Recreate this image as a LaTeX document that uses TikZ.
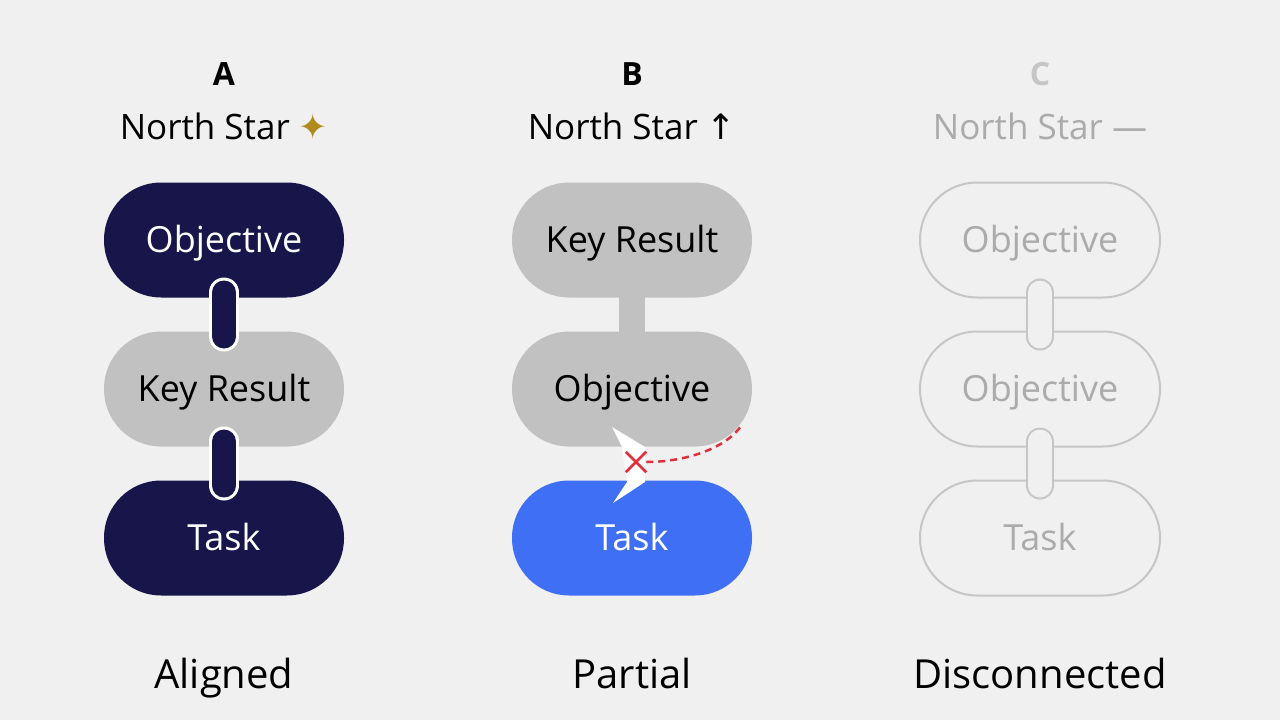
\documentclass[tikz,border=0pt]{standalone}
\usepackage{fontspec}
\usepackage{tikz}
\usetikzlibrary{positioning, shapes.misc}
\setmainfont{Open Sans}
\newfontfamily\symfont{DejaVu Sans}
\definecolor{pageBg}{HTML}{F0F0F0}
\definecolor{okrNavy}{HTML}{17154A}
\definecolor{okrGray}{HTML}{C1C1C1}
\definecolor{okrBlue}{HTML}{3F6FF5}
\definecolor{okrFaint}{HTML}{C6C6C6}
\definecolor{faintText}{HTML}{ABABAB}
\definecolor{starGold}{HTML}{B08A1C}
\definecolor{cutRed}{HTML}{E0303C}

\begin{document}
\begin{tikzpicture}[x=1pt, y=-1pt,
    pill/.style={rectangle, rounded corners=57pt, minimum width=240pt, minimum height=115pt, inner sep=0pt,
        outer sep=0pt, text height=25pt, text depth=0pt, font=\fontsize{36}{40}\selectfont},
    navyPill/.style={pill, fill=okrNavy, text=white},
    greyPill/.style={pill, fill=okrGray, text=black},
    taskPill/.style={pill, fill=okrBlue, text=white},
    ghostPill/.style={pill, draw=okrFaint, line width=2pt, text=faintText},
    letter/.style={anchor=base, font=\fontsize{32}{36}\selectfont\bfseries},
    heading/.style={anchor=base, font=\fontsize{35}{40}\selectfont},
    verdict/.style={anchor=base, font=\fontsize{40}{46}\selectfont},
    aLink/.style={draw=white, line width=3pt, double=okrNavy, double distance=24pt, line cap=round},
    bLink/.style={draw=okrGray, line width=26pt},
    cLink/.style={draw=okrFaint, line width=2pt, double=pageBg, double distance=24pt, line cap=round},
    cutLine/.style={draw=cutRed, line width=2.5pt, dashed, dash pattern=on 7pt off 5pt}
]
\fill[pageBg] (0,0) rectangle (1280,720);

% A: aligned
\node[letter] (aLetter) at (224,85) {A};
\node[heading] (aStar) at (224,139) {North Star {\symfont\color{starGold}✦}};
\node[navyPill] (aObj) at (224,240) {Objective};
\node[greyPill, below=34pt of aObj] (aKR) {Key Result};
\node[navyPill, below=34pt of aKR] (aTask) {Task};
\draw[aLink] ([yshift=5pt]aObj.south) -- ([yshift=-5pt]aKR.north);
\draw[aLink] ([yshift=5pt]aKR.south) -- ([yshift=-5pt]aTask.north);
\node[verdict] (aNote) at (224,688) {Aligned};

% B: partial
\node[letter] (bLetter) at (632,85) {B};
\node[heading] (bStar) at (632,139) {North Star {\symfont ↑}};
\node[greyPill] (bKR) at (632,240) {Key Result};
\node[greyPill, below=34pt of bKR] (bObj) {Objective};
\node[taskPill, below=34pt of bObj] (bTask) {Task};
\draw[bLink] ([yshift=2pt]bKR.south) -- ([yshift=-2pt]bObj.north);
\fill[white] (612,427) -- (645,447) -- (645,482) -- (613,503) -- (627,482) -- (622,447) -- cycle;
\node[cross out, draw=cutRed, line width=2.5pt, minimum size=18pt, inner sep=0pt] (bCut) at (636,462) {};
\coordinate (bRim) at (741,426);
\draw[cutLine] (bCut.east) .. controls +(40,0) and +(-15,22) .. (bRim);
\node[verdict] (bNote) at (632,688) {Partial};

% C: disconnected
\node[letter, text=okrFaint] (cLetter) at (1040,85) {C};
\node[heading, text=faintText] (cStar) at (1040,139) {North Star —};
\node[ghostPill] (cObj) at (1040,240) {Objective};
\node[ghostPill, below=34pt of cObj] (cMid) {Objective};
\node[ghostPill, below=34pt of cMid] (cTask) {Task};
\draw[cLink] ([yshift=5pt]cObj.south) -- ([yshift=-5pt]cMid.north);
\draw[cLink] ([yshift=5pt]cMid.south) -- ([yshift=-5pt]cTask.north);
\node[verdict] (cNote) at (1040,688) {Disconnected};
\end{tikzpicture}
\end{document}
